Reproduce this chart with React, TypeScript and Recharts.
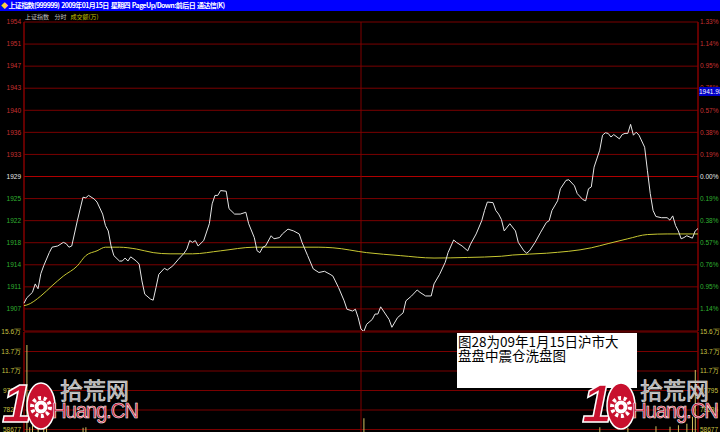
import {
  LineChart,
  Line,
  ComposedChart,
  Bar,
  XAxis,
  YAxis,
  CartesianGrid,
  ReferenceLine,
} from "recharts";

// previous close and one grid step (0.19%)
const PREV_CLOSE = 1929.04;
const STEP = 3.665;

const priceLabels = ["1907", "1911", "1914", "1918", "1922", "1925", "1929", "1933", "1936", "1940", "1943", "1947", "1951", "1954"];
const pctLabels = ["1.14%", "0.95%", "0.76%", "0.57%", "0.38%", "0.19%", "0.00%", "0.19%", "0.38%", "0.57%", "0.76%", "0.95%", "1.14%", "1.33%"];
const volLabels = ["58677", "78236", "97795", "11.7万", "13.7万", "15.6万"];
const volTicks = [58677, 78236, 97795, 117354, 136913, 156472];
const timeTicks = [0, 30, 60, 90, 120, 150, 180, 210, 240];

// minute index (0 = 9:30) and price
const priceMinutes = [
  0, 1, 3, 4, 5, 6, 7, 9, 10, 12, 14, 15, 16, 17, 19, 21, 22, 23, 25, 26, 28, 29, 30, 31, 32, 34, 35, 36, 37, 38,
  40, 41, 42, 43, 45, 46, 47, 48, 50, 51, 53, 55, 57, 58, 59, 60, 61, 62, 64, 66, 67, 68, 69, 70, 72, 73, 75, 77, 79, 80,
  82, 83, 84, 85, 86, 88, 89, 91, 92, 94, 96, 98, 99, 101, 103, 105, 107, 109, 110, 112, 114, 115, 117, 118, 119, 120, 121, 122, 124, 125,
  126, 127, 128, 130, 131, 133, 135, 136, 138, 140, 141, 143, 145, 146, 148, 150, 151, 153, 154, 156, 158, 159, 161, 163, 164, 165, 167, 168, 169, 170,
  171, 173, 175, 176, 178, 179, 180, 182, 184, 186, 187, 188, 190, 191, 193, 194, 196, 197, 199, 200, 201, 202, 203, 205, 206, 207, 208, 209, 210, 212,
  213, 214, 215, 216, 217, 218, 219, 221, 222, 223, 224, 225, 227, 229, 230, 231, 232, 233, 234, 235, 236, 238, 239, 240,
];
const prices = [
  1908.0, 1908.9, 1909.8, 1911.2, 1910.4, 1912.9, 1914.2, 1916.4, 1917.3, 1917.5, 1918.1, 1917.9, 1917.3, 1917.5, 1921.7, 1925.6, 1925.5, 1925.9, 1925.3, 1924.8, 1922.8, 1920.9, 1920.0, 1917.5, 1915.9, 1915.0, 1915.0, 1915.5, 1915.0, 1915.7,
  1915.0, 1914.5, 1911.7, 1909.5, 1908.7, 1908.5, 1910.6, 1912.8, 1913.8, 1913.5, 1914.2, 1915.3, 1916.3, 1917.0, 1918.4, 1918.1, 1918.4, 1917.5, 1918.4, 1921.2, 1924.5, 1925.9, 1925.9, 1926.7, 1926.6, 1923.7, 1922.8, 1922.8, 1923.1, 1921.2,
  1918.9, 1916.7, 1916.4, 1917.3, 1917.5, 1919.2, 1918.7, 1918.9, 1919.5, 1920.3, 1920.0, 1919.5, 1918.1, 1915.9, 1913.7, 1913.1, 1913.3, 1912.8, 1912.5, 1910.6, 1908.4, 1907.0, 1906.7, 1907.0, 1905.6, 1903.7, 1903.3, 1904.5, 1905.3, 1906.2,
  1906.2, 1907.4, 1906.7, 1905.3, 1904.0, 1905.6, 1906.4, 1908.4, 1909.2, 1910.2, 1909.8, 1909.2, 1909.2, 1911.2, 1912.8, 1914.8, 1916.4, 1918.5, 1918.1, 1917.5, 1916.7, 1917.8, 1919.5, 1921.7, 1923.4, 1924.8, 1924.7, 1923.4, 1922.8, 1921.9,
  1920.0, 1921.2, 1920.0, 1918.1, 1916.7, 1916.3, 1916.7, 1918.1, 1919.8, 1921.4, 1921.7, 1923.4, 1925.0, 1927.0, 1928.4, 1928.5, 1927.5, 1926.2, 1925.2, 1925.0, 1927.0, 1927.3, 1930.6, 1933.4, 1935.9, 1936.3, 1936.2, 1935.6, 1936.0, 1935.3,
  1936.0, 1936.2, 1936.2, 1937.7, 1935.9, 1936.4, 1935.9, 1933.9, 1930.0, 1926.2, 1923.4, 1922.4, 1922.2, 1922.2, 1921.8, 1922.5, 1920.9, 1920.0, 1918.7, 1918.9, 1919.2, 1918.8, 1920.0, 1920.4,
];

// average price line
const avgMinutes = [0, 1, 6, 10, 14, 19, 22, 26, 29, 34, 40, 46, 52, 60, 70, 82, 94, 105, 110, 122, 134, 146, 158, 170, 174, 186, 202, 208, 215, 222, 229, 238, 240];
const avgPrices = [
  1907.6, 1907.7, 1909.2, 1910.9, 1912.5, 1914.2, 1915.9, 1916.7, 1917.3, 1917.3, 1917.0, 1916.4, 1916.2, 1916.2, 1916.7, 1917.3, 1917.3,
  1917.3, 1917.2, 1916.4, 1915.9, 1915.5, 1915.6, 1915.8, 1916.0, 1916.3, 1917.2, 1917.9, 1918.7, 1919.4, 1919.5, 1919.5, 1919.5,
];

// volume bars tall enough to be seen
const volMinutes = [1, 2, 3, 5, 7, 8, 21, 22, 121, 205, 215, 225, 230, 233, 236, 238, 239];
const volumes = [143400, 61000, 63000, 60500, 62000, 60000, 60500, 61000, 69900, 61000, 60500, 62000, 61500, 63000, 64500, 71500, 118400];

const priceTicks = priceLabels.map((_, i) => PREV_CLOSE + (i - 6) * STEP);
const priceData = priceMinutes.map((m, i) => ({ m, p: prices[i] }));
const avgData = avgMinutes.map((m, i) => ({ m, a: avgPrices[i] }));
const volData = volMinutes.map((m, i) => ({ m, v: volumes[i] }));

const RED_TXT = "#c83030";
const GREEN_TXT = "#30b030";
const WHITE_TXT = "#e8e8e8";
const VOL_TXT = "#c8c040";
const GRID_H = "#7a0000";
const GRID_V = "#4a0000";
const AXIS = "#a00000";
const LABEL_FONT = "'Liberation Sans', Arial, sans-serif";

const PriceTick = (props: any) => {
  const { y, payload } = props;
  const i = priceTicks.findIndex((t) => Math.abs(t - payload.value) < 0.01);
  if (i < 0) return null;
  const k = i - 6;
  const color = k > 0 ? RED_TXT : k < 0 ? GREEN_TXT : WHITE_TXT;
  return (
    <g fontFamily={LABEL_FONT} fontSize={6.5}>
      <text x={21} y={y} dy="0.35em" textAnchor="end" fill={color}>
        {priceLabels[i]}
      </text>
      <text x={700} y={y} dy="0.35em" textAnchor="start" fill={color}>
        {pctLabels[i]}
      </text>
    </g>
  );
};

const VolTick = (props: any) => {
  const { y, payload } = props;
  const i = volTicks.indexOf(payload.value);
  if (i < 0) return null;
  return (
    <g fontFamily={LABEL_FONT} fontSize={6.5} fill={VOL_TXT}>
      <text x={21} y={y} dy="0.35em" textAnchor="end">
        {volLabels[i]}
      </text>
      <text x={700} y={y} dy="0.35em" textAnchor="start">
        {volLabels[i]}
      </text>
    </g>
  );
};

function Logo({ left }: { left: number }) {
  const red = "#c8102e";
  return (
    <div style={{ position: "absolute", left, top: 376, width: 140, height: 60 }}>
      <div
        style={{
          position: "absolute",
          left: 2,
          top: 0,
          fontSize: 54,
          fontWeight: 900,
          fontStyle: "italic",
          color: red,
          fontFamily: "'Liberation Sans', Arial",
          WebkitTextStroke: "1.5px #fff",
          lineHeight: "54px",
        }}
      >
        1
      </div>
      <svg style={{ position: "absolute", left: 25, top: 5 }} width={32} height={50}>
        <ellipse cx={16} cy={25} rx={14} ry={23} fill={red} stroke="#fff" strokeWidth={1.5} />
        <circle cx={16} cy={26} r={9} fill="none" stroke="#fff" strokeWidth={4} strokeDasharray="3 2.6" />
        <circle cx={16} cy={26} r={6.5} fill="#fff" />
        <circle cx={16} cy={26} r={2.5} fill={red} />
      </svg>
      <div
        style={{
          position: "absolute",
          left: 60,
          top: 0,
          fontSize: 23,
          color: "#a8a8a8",
          fontFamily: "'Noto Sans CJK SC'",
          lineHeight: "26px",
          WebkitTextStroke: "0.6px #e0e0e0",
        }}
      >
        拾荒网
      </div>
      <div
        style={{
          position: "absolute",
          left: 52,
          top: 24,
          fontSize: 22,
          color: red,
          fontFamily: "'Liberation Sans', Arial",
          lineHeight: "22px",
          letterSpacing: -1.2,
          WebkitTextStroke: "0.6px #fff",
          transform: "scaleX(0.92)",
          transformOrigin: "left",
        }}
      >
        Huang.CN
      </div>
    </div>
  );
}

export default function App() {
  return (
    <div
      style={{
        position: "relative",
        width: 720,
        height: 432,
        background: "#000",
        overflow: "hidden",
        fontFamily: "'Noto Sans CJK SC', sans-serif",
      }}
    >
      <style>{`body{margin:0;background:#000}`}</style>

      {/* title bar */}
      <div style={{ position: "absolute", left: 0, top: 0, width: 720, height: 11, background: "#0000ff" }} />
      <div
        style={{
          position: "absolute",
          left: 1,
          top: 0,
          height: 11,
          lineHeight: "11px",
          fontSize: 7,
          fontWeight: "bold",
          color: "#fff",
          whiteSpace: "pre",
          letterSpacing: -0.6,
        }}
      >
        <span style={{ color: "#ffd040" }}>◆ </span>
        上证指数(999999)  2009年01月15日  星期四  PageUp/Down:前后日  通达信(K)
      </div>
      <div
        style={{
          position: "absolute",
          left: 25,
          top: 13,
          lineHeight: "8px",
          fontSize: 6,
          color: "#c0c0c0",
          whiteSpace: "pre",
        }}
      >
        上证指数    分时   <span style={{ color: "#c8c000" }}>成交额(万)</span>
      </div>

      {/* price panel */}
      <div style={{ position: "absolute", left: 0, top: 0 }}>
        <LineChart width={720} height={340} margin={{ top: 22, right: 22, bottom: 9, left: 0 }}>
          <CartesianGrid stroke={GRID_H} horizontal vertical={false} />
          <CartesianGrid stroke={GRID_V} horizontal={false} vertical />
          <XAxis
            dataKey="m"
            type="number"
            domain={[0, 240]}
            ticks={timeTicks}
            height={0}
            tick={false}
            axisLine={false}
            tickLine={false}
            allowDuplicatedCategory={false}
          />
          <YAxis
            type="number"
            domain={[PREV_CLOSE - 7 * STEP, PREV_CLOSE + 7 * STEP]}
            allowDataOverflow
            ticks={priceTicks}
            interval={0}
            width={24}
            axisLine={false}
            tickLine={false}
            tick={<PriceTick />}
          />
          <ReferenceLine y={PREV_CLOSE} stroke="#b00000" />
          <ReferenceLine x={0} stroke={AXIS} />
          <ReferenceLine x={120} stroke="#800000" />
          <ReferenceLine x={240} stroke={AXIS} />
          <Line
            data={avgData}
            dataKey="a"
            type="monotone"
            stroke="#c8c832"
            strokeWidth={1}
            dot={false}
            isAnimationActive={false}
          />
          <Line
            data={priceData}
            dataKey="p"
            type="linear"
            stroke="#e6e6e6"
            strokeWidth={1}
            dot={false}
            isAnimationActive={false}
          />
        </LineChart>
      </div>

      {/* volume panel */}
      <div style={{ position: "absolute", left: 0, top: 324 }}>
        <ComposedChart width={720} height={180} data={volData} margin={{ top: 8, right: 22, bottom: 16, left: 0 }}>
          <CartesianGrid stroke={GRID_H} horizontal vertical={false} />
          <CartesianGrid stroke={GRID_V} horizontal={false} vertical />
          <XAxis
            dataKey="m"
            type="number"
            domain={[0, 240]}
            ticks={timeTicks}
            height={0}
            tick={false}
            axisLine={false}
            tickLine={false}
          />
          <YAxis
            type="number"
            domain={[0, volTicks[volTicks.length - 1]]}
            ticks={volTicks}
            interval={0}
            width={24}
            axisLine={false}
            tickLine={false}
            tick={<VolTick />}
          />
          <ReferenceLine x={0} stroke={AXIS} />
          <ReferenceLine x={120} stroke="#800000" />
          <ReferenceLine x={240} stroke={AXIS} />
          <Bar dataKey="v" fill="#d0c060" barSize={1} isAnimationActive={false} />
        </ComposedChart>
      </div>

      {/* cursor price box */}
      <div
        style={{
          position: "absolute",
          left: 699,
          top: 87,
          width: 21,
          height: 9,
          background: "#0000c8",
          color: "#fff",
          fontSize: 6.5,
          lineHeight: "9px",
          fontFamily: LABEL_FONT,
          whiteSpace: "nowrap",
          overflow: "hidden",
        }}
      >
        1941.98
      </div>

      {/* caption box */}
      <div
        style={{
          position: "absolute",
          left: 457,
          top: 333,
          width: 180,
          height: 55,
          background: "#fff",
          color: "#000",
          fontSize: 13.5,
          lineHeight: "14px",
          padding: "1px 0 0 1px",
          boxSizing: "border-box",
          whiteSpace: "pre",
        }}
      >
        {"图28为09年1月15日沪市大\n盘盘中震仓洗盘图"}
      </div>

      <Logo left={0} />
      <Logo left={580} />
    </div>
  );
}
